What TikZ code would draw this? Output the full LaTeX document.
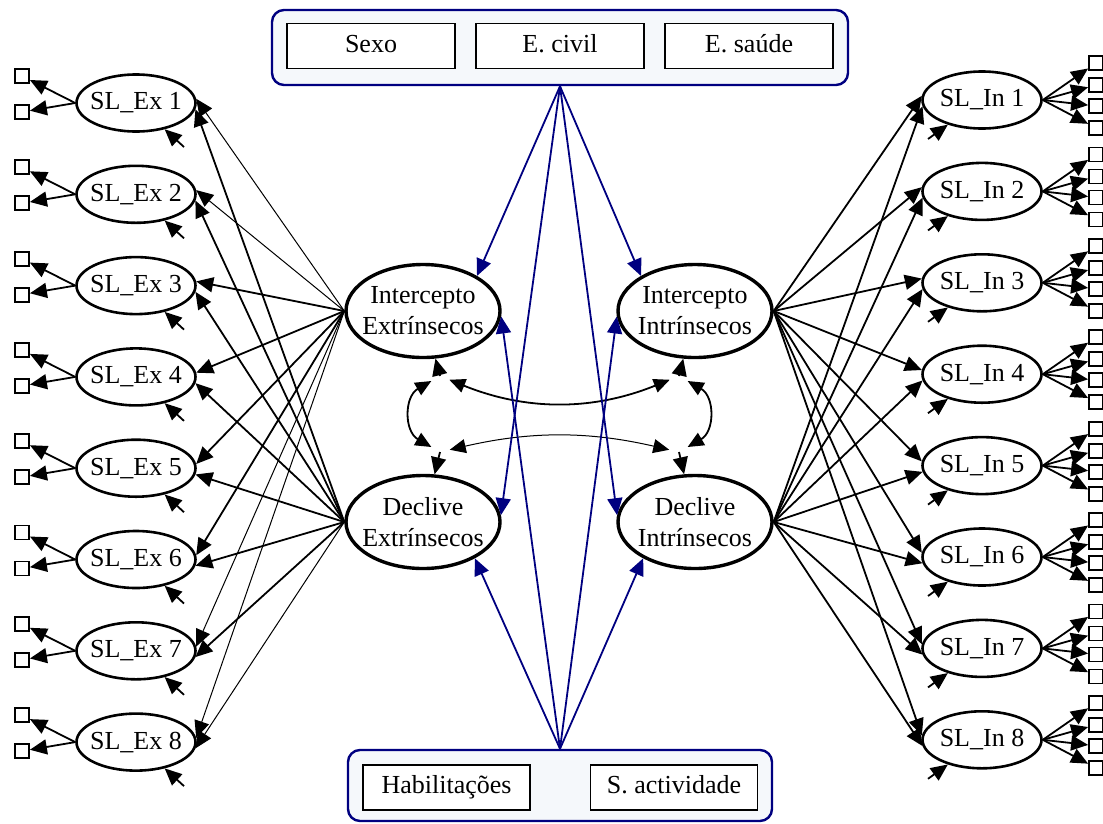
\documentclass[tikz,border=0pt]{standalone}
\usepackage{fontspec}
\setmainfont{Liberation Serif}
\usetikzlibrary{arrows.meta, shapes.geometric}
\definecolor{covnavy}{RGB}{0, 0, 128}
\definecolor{grpfill}{RGB}{245, 248, 251}

\begin{document}
\begin{tikzpicture}[x=1pt, y=-1pt,
  font=\fontsize{26}{31}\selectfont,
  item/.style={draw, ellipse, line width=2.6pt, minimum width=119pt, minimum height=57pt, inner xsep=-8pt, inner ysep=0pt},
  factor/.style={draw, ellipse, line width=3.4pt, minimum width=154pt, minimum height=93pt, inner xsep=-14pt, inner ysep=0pt, align=center},
  ind/.style={draw, rectangle, line width=1.8pt, minimum size=14pt, inner sep=0pt},
  covbox/.style={draw, fill=white, rectangle, line width=1.8pt, minimum width=168pt, minimum height=45pt, inner sep=0pt, text height=18pt, text depth=6pt},
  grpbox/.style={draw=covnavy, fill=grpfill, rounded corners=12pt, line width=2.4pt, inner sep=0pt},
  load/.style={-{Triangle[length=17pt, width=15pt]}, line width=1.8pt},
  thinload/.style={load, line width=1pt},
  pred/.style={-{Triangle[length=17pt, width=15pt]}, draw=covnavy, line width=1.8pt},
  cov/.style={{Triangle[length=16pt, width=14pt]}-{Triangle[length=16pt, width=14pt]}, line width=1.8pt, shorten <=10pt, shorten >=10pt}
]
\useasboundingbox (0,0) rectangle (1103,823);

% covariate groups
\node[grpbox, minimum width=576pt, minimum height=75pt] (topgrp) at (560,47.5) {};
\node[covbox] (sexo) at (371,46) {Sexo};
\node[covbox] (ecivil) at (560,46) {E. civil};
\node[covbox] (esaude) at (749,46) {E. saúde};

\node[grpbox, minimum width=424pt, minimum height=71pt] (botgrp) at (560,785.5) {};
\node[covbox, minimum width=167pt] (habil) at (446.5,787.5) {Habilitações};
\node[covbox, minimum width=167pt] (sativ) at (674,787.5) {S. actividade};

% latent growth factors
\node[factor] (ie) at (423,311) {Intercepto\\Extrínsecos};
\node[factor] (de) at (423,522) {Declive\\Extrínsecos};
\node[factor] (ii) at (695,311) {Intercepto\\Intrínsecos};
\node[factor] (di) at (695,522) {Declive\\Intrínsecos};

\coordinate (die) at (440,376);
\coordinate (dde) at (440,452);
\coordinate (dii) at (679,376);
\coordinate (ddi) at (679,452);

\foreach \d/\f in {die/ie, dde/de, dii/ii, ddi/di}
  \draw[load] (\d) -- (\f);

\draw[cov] (die) to[bend right=60, looseness=1.4] (dde);
\draw[cov] (dii) to[bend left=60, looseness=1.4] (ddi);
\draw[cov] (die) to[bend right=22] (dii);
\draw[cov, line width=1pt] (dde) to[bend left=13] (ddi);

% extrinsic items
\foreach \i in {1,...,8} {
  \pgfmathsetmacro\yy{103+91.3*(\i-1)}
  \node[item] (ex\i) at (136,\yy) {SL\_Ex \i};
  \node[ind] (exa\i) at (22,{\yy-27}) {};
  \node[ind] (exb\i) at (22,{\yy+9}) {};
  \draw[load] (ex\i.west) -- (exa\i);
  \draw[load] (ex\i.west) -- (exb\i);
  \path (ex\i.center) ++(48,44) coordinate (eex\i);
  \draw[load] (eex\i) -- (ex\i);
}

% intrinsic items
\foreach \i in {1,...,8} {
  \pgfmathsetmacro\yy{100+91.4*(\i-1)}
  \node[item] (in\i) at (982,\yy) {SL\_In \i};
  \foreach \k/\o in {a/-37, b/-15, c/6, d/28} {
    \node[ind] (in\k\i) at (1096,{\yy+\o}) {};
    \draw[load] (in\i.east) -- (in\k\i);
  }
  \path (in\i.center) ++(-54,39) coordinate (ein\i);
  \draw[load] (ein\i) -- (in\i);
}

% loadings
\foreach \i in {3,...,6}
  \draw[load] (ie.west) -- (ex\i.4);
\foreach \i in {1,2,7,8}
  \draw[thinload] (ie.west) -- (ex\i.4);
\foreach \i in {1,...,7}
  \draw[load] (de.west) -- (ex\i.-6);
\draw[thinload] (de.west) -- (ex8.-6);
\foreach \i in {1,...,8} {
  \draw[load] (ii.east) -- (in\i.176);
  \draw[load] (di.east) -- (in\i.186);
}

% covariate effects
\foreach \f/\a in {ie/33, ii/147, de/5, di/175}
  \draw[pred] (topgrp.south) -- (\f.\a);
\foreach \f/\a in {de/-35, di/215, ie/-4, ii/184}
  \draw[pred] (botgrp.north) -- (\f.\a);
\end{tikzpicture}
\end{document}
